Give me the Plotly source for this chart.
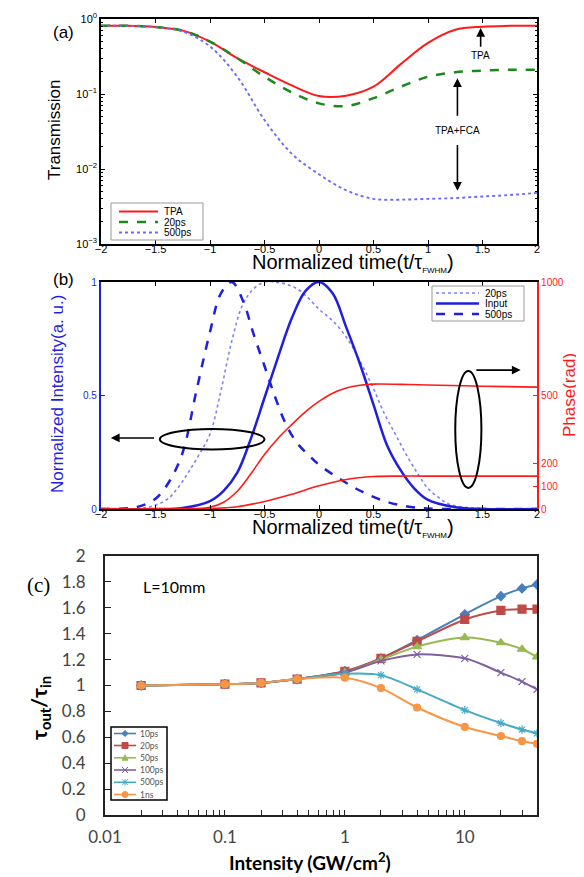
import plotly.graph_objects as go

W, H = 584, 877

# ---------------- Panel (a) data ----------------
t_a = [-2, -1.75, -1.5, -1.25, -1, -0.75, -0.5, -0.25, 0, 0.25, 0.5, 0.75, 1, 1.25, 1.5, 1.75, 2]
trans_tpa = [0.81, 0.81, 0.78, 0.70, 0.50, 0.30, 0.195, 0.13, 0.094, 0.095, 0.125, 0.25, 0.48, 0.72, 0.79, 0.81, 0.81]
trans_20ps = [0.81, 0.81, 0.78, 0.70, 0.50, 0.30, 0.17, 0.105, 0.075, 0.069, 0.088, 0.125, 0.17, 0.195, 0.205, 0.21, 0.21]
trans_500ps = [0.81, 0.81, 0.78, 0.68, 0.43, 0.17, 0.045, 0.016, 0.0085, 0.0052, 0.0040, 0.0039, 0.0040, 0.0041, 0.0043, 0.0045, 0.0048]
legend_a = ["TPA", "20ps", "500ps"]

# ---------------- Panel (b) data ----------------
t_input = [-2, -1.5, -1.25, -1, -0.875, -0.75, -0.625, -0.5, -0.375, -0.25, -0.125, 0,
           0.125, 0.25, 0.375, 0.5, 0.625, 0.75, 0.875, 1, 1.25, 1.5, 2]
int_input = [0, 0, 0.005, 0.035, 0.08, 0.16, 0.31, 0.49, 0.67, 0.84, 0.96, 1.0,
             0.95, 0.80, 0.64, 0.46, 0.28, 0.17, 0.09, 0.04, 0.008, 0, 0]

t_500 = [-2, -1.75, -1.625, -1.5, -1.375, -1.25, -1.125, -1, -0.9, -0.8, -0.7, -0.6, -0.5,
         -0.4, -0.3, -0.2, -0.1, 0, 0.2, 0.4, 0.6, 0.8, 1, 1.5, 2]
int_500 = [0, 0.003, 0.015, 0.045, 0.12, 0.25, 0.52, 0.78, 0.95, 1.0, 0.92, 0.77, 0.63,
           0.49, 0.37, 0.29, 0.24, 0.195, 0.13, 0.075, 0.035, 0.012, 0.002, 0, 0]

t_20 = [-2, -1.6, -1.4, -1.3, -1.2, -1.1, -1.0, -0.9, -0.8, -0.7, -0.6, -0.5, -0.4, -0.3, -0.2,
        -0.1, 0, 0.1, 0.2, 0.3, 0.4, 0.5, 0.6, 0.7, 0.8, 0.9, 1.0, 1.1, 1.2, 1.4, 1.6, 2]
int_20 = [0, 0.005, 0.04, 0.09, 0.16, 0.24, 0.33, 0.52, 0.74, 0.90, 0.97, 1.0, 1.0, 0.99, 0.97,
          0.93, 0.88, 0.84, 0.79, 0.72, 0.63, 0.53, 0.42, 0.33, 0.24, 0.16, 0.09, 0.05, 0.02, 0.005, 0, 0]

t_phase_hi = [-2, -1.5, -1.25, -1, -0.875, -0.75, -0.625, -0.5, -0.375, -0.25, -0.125, 0,
              0.125, 0.25, 0.375, 0.5, 0.75, 1, 1.5, 2]
phase_hi = [0, 0, 1, 8, 30, 78, 155, 240, 312, 372, 428, 474, 510, 533, 545, 550, 549, 546, 541, 537]

t_phase_lo = [-2, -1.25, -1, -0.75, -0.5, -0.25, 0, 0.25, 0.5, 0.75, 1, 1.5, 2]
phase_lo = [0, 0, 2, 10, 33, 65, 102, 130, 143, 145, 145, 145, 145]
legend_b = ["20ps", "Input", "500ps"]

# ---------------- Panel (c) data ----------------
intensity = [0.02, 0.1, 0.2, 0.4, 1, 2, 4, 10, 20, 30, 40]
ratio_10ps = [1.0, 1.01, 1.02, 1.05, 1.11, 1.21, 1.35, 1.55, 1.69, 1.75, 1.78]
ratio_20ps = [1.0, 1.01, 1.02, 1.05, 1.11, 1.21, 1.34, 1.51, 1.58, 1.59, 1.59]
ratio_50ps = [1.0, 1.01, 1.02, 1.05, 1.10, 1.20, 1.30, 1.37, 1.33, 1.28, 1.22]
ratio_100ps = [1.0, 1.01, 1.02, 1.05, 1.10, 1.19, 1.24, 1.21, 1.10, 1.03, 0.97]
ratio_500ps = [1.0, 1.01, 1.02, 1.05, 1.09, 1.08, 0.97, 0.81, 0.71, 0.66, 0.63]
ratio_1ns = [1.0, 1.01, 1.02, 1.05, 1.06, 0.98, 0.83, 0.68, 0.61, 0.57, 0.55]
series_c_names = ["10ps", "20ps", "50ps", "100ps", "500ps", "1ns"]

# ---------------- helpers ----------------
def px(x):
    return x / W

def py(y):
    return 1 - y / H

SANS = "Liberation Sans, Arial, sans-serif"
CAL = "Lato, Carlito, Calibri, sans-serif"

RED = "#ff1a1a"
GREEN = "#1a8a1a"
LBLUE = "#6a6aff"
BLUE = "#1f1fdd"

fig = go.Figure()

# Panel (a)
fig.add_trace(go.Scatter(x=t_a, y=trans_tpa, mode="lines", name=legend_a[0],
                         line=dict(color=RED, width=2, shape="spline"),
                         xaxis="x", yaxis="y"))
fig.add_trace(go.Scatter(x=t_a, y=trans_20ps, mode="lines", name=legend_a[1],
                         line=dict(color=GREEN, width=2.5, dash="dash", shape="spline"),
                         xaxis="x", yaxis="y"))
fig.add_trace(go.Scatter(x=t_a, y=trans_500ps, mode="lines", name=legend_a[2],
                         line=dict(color=LBLUE, width=1.9, dash="dot", shape="spline"),
                         xaxis="x", yaxis="y"))

# Panel (b)
fig.add_trace(go.Scatter(x=t_20, y=int_20, mode="lines", name=legend_b[0],
                         line=dict(color="#8080ff", width=1.6, dash="dot", shape="spline"),
                         xaxis="x2", yaxis="y2"))
fig.add_trace(go.Scatter(x=t_input, y=int_input, mode="lines", name=legend_b[1],
                         line=dict(color=BLUE, width=2.5, shape="spline"),
                         xaxis="x2", yaxis="y2"))
fig.add_trace(go.Scatter(x=t_500, y=int_500, mode="lines", name=legend_b[2],
                         line=dict(color=BLUE, width=2.5, dash="dash", shape="spline"),
                         xaxis="x2", yaxis="y2"))
fig.add_trace(go.Scatter(x=t_phase_hi, y=phase_hi, mode="lines",
                         line=dict(color=RED, width=1.6, shape="spline"),
                         xaxis="x2", yaxis="y3"))
fig.add_trace(go.Scatter(x=t_phase_lo, y=phase_lo, mode="lines",
                         line=dict(color=RED, width=1.6, shape="spline"),
                         xaxis="x2", yaxis="y3"))

# Panel (c)
c_series = [ratio_10ps, ratio_20ps, ratio_50ps, ratio_100ps, ratio_500ps, ratio_1ns]
c_colors = ["#4a7ebb", "#be4b48", "#98b954", "#7d60a0", "#46aac5", "#f79646"]
c_symbols = ["diamond", "square", "triangle-up", "x-thin-open", "asterisk-open", "circle"]
c_sizes = [7, 8, 8, 7, 7, 7]
for name, vals, col, sym, sz in zip(series_c_names, c_series, c_colors, c_symbols, c_sizes):
    fig.add_trace(go.Scatter(x=intensity, y=vals, mode="lines+markers", name=name,
                             line=dict(color=col, width=2, shape="spline", smoothing=0.8),
                             marker=dict(symbol=sym, size=sz, color=col,
                                         line=dict(color=col, width=1.2)),
                             xaxis="x3", yaxis="y4"))

minor_a = [m * 10 ** d for d in (-3, -2, -1) for m in range(2, 10)]
minor_c = [m * 10 ** d for d in (-2, -1, 0, 1) for m in range(2, 10) if m * 10 ** d <= 40]

axis_common = dict(showgrid=False, zeroline=False, showline=True, ticks="inside",
                   automargin=False)

fig.update_layout(
    width=W, height=H,
    margin=dict(l=0, r=0, t=0, b=0, autoexpand=False),
    paper_bgcolor="white", plot_bgcolor="white",
    font=dict(family=SANS, color="black"),
    hovermode=False,
    showlegend=False,
    # Panel (a)
    xaxis=dict(**axis_common, domain=[px(93), px(529)], range=[-2, 2], anchor="y",
               tick0=-2, dtick=0.5, mirror="ticks", linecolor="black", linewidth=1.5,
               ticklen=4, tickcolor="black", ticklabelstandoff=-6,
               tickfont=dict(size=11, family=SANS)),
    yaxis=dict(**axis_common, domain=[py(236), py(11)], type="log", range=[-3, 0], anchor="x",
               tickvals=[1e-3, 1e-2, 1e-1, 1], mirror="ticks",
               ticktext=["10<sup>−3</sup>", "10<sup>−2</sup>", "10<sup>−1</sup>", "10<sup>0</sup>"],
               linecolor="black", linewidth=1.5, ticklen=4, tickcolor="black",
               tickfont=dict(size=11, family=SANS),
               minor=dict(tickvals=minor_a, ticks="inside", ticklen=2.5, tickcolor="black")),
    # Panel (b)
    xaxis2=dict(**axis_common, domain=[px(93), px(529)], range=[-2, 2], anchor="y2",
                tick0=-2, dtick=0.5, mirror="ticks", linecolor="black", linewidth=1.5,
                ticklen=4, tickcolor="black", ticklabelstandoff=-6,
                tickfont=dict(size=11, family=SANS)),
    yaxis2=dict(**axis_common, domain=[py(501), py(274)], range=[0, 1], anchor="x2",
                tickvals=[0, 0.5, 1], ticktext=["0", "0.5", "1"],
                linecolor=BLUE, linewidth=2.2, ticklen=4, tickcolor=BLUE,
                tickfont=dict(size=10, family=SANS, color=BLUE)),
    yaxis3=dict(**axis_common, domain=[py(501), py(274)], range=[0, 1000], anchor="x2",
                overlaying="y2", side="right",
                tickvals=[0, 100, 200, 500, 1000], ticktext=["0", "100", "200", "500", "1000"],
                linecolor=RED, linewidth=2.2, ticklen=4, tickcolor=RED,
                tickfont=dict(size=10, family=SANS, color=RED)),
    # Panel (c)
    xaxis3=dict(**axis_common, domain=[px(97), px(529)], type="log", range=[-2, 1.60206],
                anchor="y4", tickvals=[0.01, 0.1, 1, 10], ticktext=["0.01", "0.1", "1", "10"],
                mirror=True, linecolor="#222222", linewidth=2, ticklen=5, tickcolor="#222222",
                ticklabelstandoff=6,
                tickfont=dict(size=17, family=CAL, color="#444444"),
                minor=dict(tickvals=minor_c, ticks="inside", ticklen=5, tickcolor="#222222")),
    yaxis4=dict(**axis_common, domain=[py(807), py(548)], range=[0, 2], anchor="x3",
                tick0=0, dtick=0.2, mirror=True, linecolor="#222222", linewidth=2,
                ticklen=6, tickcolor="#222222", ticklabelstandoff=14,
                tickfont=dict(size=17, family=CAL, color="#444444")),
)

def ann_paper(text, x, y, size, family=SANS, color="black", angle=0, bold=False, xanchor="center"):
    if bold:
        text = "<b>" + text + "</b>"
    return dict(text=text, x=px(x), y=py(y), xref="paper", yref="paper",
                xanchor=xanchor, yanchor="middle", showarrow=False, textangle=angle,
                font=dict(size=size, family=family, color=color))

SUBF = "<sub><span style='font-size:8px'>FWHM</span></sub>"
annotations = [
    ann_paper("(a)", 55, 25, 17),
    ann_paper("Transmission", 46, 122, 17, angle=-90),
    ann_paper("Normalized time(t/τ" + SUBF + ")", 345, 255, 20),
    ann_paper("(b)", 55, 272, 17),
    ann_paper("Normalized Intensity(a. u.)", 50, 386, 17, color=BLUE, angle=-90),
    ann_paper("Phase(rad)", 561, 387, 17, color=RED, angle=-90),
    ann_paper("Normalized time(t/τ" + SUBF + ")", 345, 520, 20),
    ann_paper("(c)", 30, 577, 21, family="Liberation Serif, Times New Roman, serif"),
    ann_paper("L=10mm", 166, 578, 16, family=CAL),
    ann_paper("τ<sub>out</sub>/τ<sub>in</sub>", 32, 700, 21, family=CAL, angle=-90, bold=True),
    ann_paper("Intensity (GW/cm<sup>2</sup>)", 302, 853, 19, family=CAL, bold=True),
]

# Panel (a) arrows and labels (log axis -> log10 coordinates)
def arrow(x, y, ax, ay, xr, yr):
    return dict(x=x, y=y, ax=ax, ay=ay, xref=xr, yref=yr, axref=xr, ayref=yr,
                showarrow=True, arrowhead=2, arrowsize=1.1, arrowwidth=1.6,
                arrowcolor="black", text="")

annotations += [
    arrow(1.483, -0.12, 1.483, -0.39, "x", "y"),
    dict(text="TPA", x=1.483, y=-0.49, xref="x", yref="y", showarrow=False,
         font=dict(size=10, family=SANS)),
    arrow(1.27, -0.79, 1.27, -1.31, "x", "y"),
    arrow(1.27, -2.29, 1.27, -1.66, "x", "y"),
    dict(text="TPA+FCA", x=1.27, y=-1.49, xref="x", yref="y", showarrow=False,
         font=dict(size=10, family=SANS)),
    arrow(-1.91, 0.313, -1.5, 0.313, "x2", "y2"),
    arrow(1.85, 0.612, 1.43, 0.612, "x2", "y2"),
]

shapes = [
    dict(type="circle", xref="x2", yref="y2", x0=-1.46, x1=-0.5, y0=0.262, y1=0.352,
         line=dict(color="black", width=2)),
    dict(type="circle", xref="x2", yref="y2", x0=1.25, x1=1.49, y0=0.093, y1=0.608,
         line=dict(color="black", width=2)),
]

# ---------- hand-built legends (compact rows like the original) ----------
def rect(x0, y0, x1, y1, color, width):
    return dict(type="rect", xref="paper", yref="paper", x0=px(x0), x1=px(x1),
                y0=py(y1), y1=py(y0), line=dict(color=color, width=width),
                fillcolor="white", layer="above")

def hline(x0, x1, y, color, width, dash="solid"):
    return dict(type="line", xref="paper", yref="paper", x0=px(x0), x1=px(x1),
                y0=py(y), y1=py(y), line=dict(color=color, width=width, dash=dash),
                layer="above")

def path_shape(pts, color, fill=True, closed=True, width=1):
    d = "M " + " L ".join(f"{px(a):.5f},{py(b):.5f}" for a, b in pts)
    if closed:
        d += " Z"
    return dict(type="path", xref="paper", yref="paper", path=d,
                fillcolor=color if fill else "rgba(0,0,0,0)",
                line=dict(color=color, width=width), layer="above")

# legend (a)
shapes.append(rect(103, 195, 195, 232, "#999999", 1))
for y, col, w, dash, lab in zip([203.5, 214, 224.5], [RED, GREEN, LBLUE], [2, 2.5, 1.9],
                                ["solid", "dash", "dot"], legend_a):
    shapes.append(hline(111, 150, y, col, w, dash))
    annotations.append(ann_paper(lab, 154, y, 10, xanchor="left"))

# legend (b)
shapes.append(rect(424, 278, 516, 313, "#999999", 1))
for y, col, w, dash, lab in zip([285, 295.5, 306], ["#8080ff", BLUE, BLUE], [1.6, 2.5, 2.5],
                                ["dot", "solid", "dash"], legend_b):
    shapes.append(hline(428, 471, y, col, w, dash))
    annotations.append(ann_paper(lab, 475, y, 10, xanchor="left"))

# legend (c)
shapes.append(rect(103, 719, 159, 792, "black", 1.5))
ys_c = [725.5, 737.5, 749.8, 762, 774.3, 786.5]
for y, col, sym, lab in zip(ys_c, c_colors, c_symbols, series_c_names):
    shapes.append(hline(106, 128, y, col, 1.6))
    cx, r = 117, 3
    if sym == "diamond":
        shapes.append(path_shape([(cx, y - r), (cx + r, y), (cx, y + r), (cx - r, y)], col))
    elif sym == "square":
        shapes.append(path_shape([(cx - r, y - r), (cx + r, y - r), (cx + r, y + r), (cx - r, y + r)], col))
    elif sym == "triangle-up":
        shapes.append(path_shape([(cx, y - r), (cx + r, y + r * 0.8), (cx - r, y + r * 0.8)], col))
    elif sym == "x-thin-open":
        shapes.append(path_shape([(cx - r, y - r), (cx + r, y + r)], col, fill=False, closed=False))
        shapes.append(path_shape([(cx - r, y + r), (cx + r, y - r)], col, fill=False, closed=False))
    elif sym == "asterisk-open":
        shapes.append(path_shape([(cx - r, y - r), (cx + r, y + r)], col, fill=False, closed=False))
        shapes.append(path_shape([(cx - r, y + r), (cx + r, y - r)], col, fill=False, closed=False))
        shapes.append(path_shape([(cx, y - r), (cx, y + r)], col, fill=False, closed=False))
    else:
        shapes.append(dict(type="circle", xref="paper", yref="paper",
                           x0=px(cx - r), x1=px(cx + r), y0=py(y + r), y1=py(y - r),
                           fillcolor=col, line=dict(color=col, width=1), layer="above"))
    annotations.append(ann_paper(lab, 130, y, 8.5, family=CAL, color="#555555", xanchor="left"))

fig.update_layout(annotations=annotations, shapes=shapes)

fig.write_html("out.html")
